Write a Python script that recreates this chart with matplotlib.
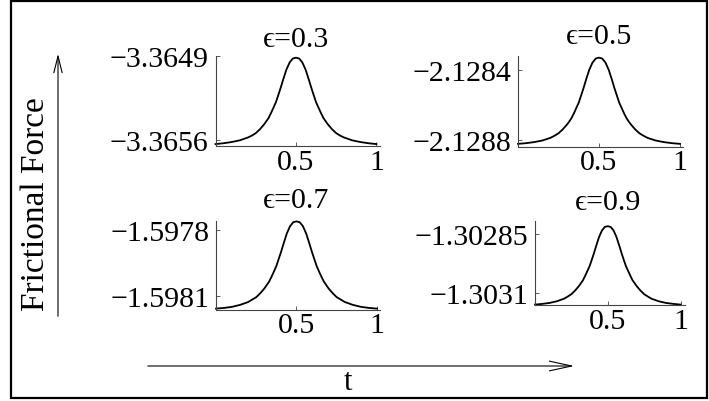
import matplotlib
matplotlib.use("Agg")
import matplotlib.pyplot as plt
from matplotlib.patches import Rectangle, FancyArrowPatch

plt.rcParams['font.family'] = ['Liberation Serif', 'DejaVu Serif']

# time samples (finer near the flanks and the peak)
t = [0, 0.05, 0.1, 0.15, 0.2, 0.225, 0.25, 0.275, 0.3, 0.315, 0.33, 0.345, 0.36, 0.375,
     0.39, 0.405, 0.42, 0.44, 0.46, 0.48, 0.5,
     0.52, 0.54, 0.56, 0.58, 0.595, 0.61, 0.625, 0.64, 0.655, 0.67, 0.685, 0.7, 0.725,
     0.75, 0.775, 0.8, 0.85, 0.9, 0.95, 1.0]

# frictional force
force_03 = [-3.365634, -3.365627, -3.365617, -3.365603, -3.365580, -3.365564, -3.365543,
            -3.365512, -3.365473, -3.365445, -3.365416, -3.365375, -3.365331, -3.365286,
            -3.365226, -3.365164, -3.365098, -3.365015, -3.364955, -3.364921, -3.364914,
            -3.364921, -3.364955, -3.365015, -3.365098, -3.365164, -3.365226, -3.365286,
            -3.365331, -3.365375, -3.365416, -3.365445, -3.365473, -3.365512, -3.365543,
            -3.365564, -3.365580, -3.365603, -3.365617, -3.365627, -3.365634]
force_05 = [-2.128820, -2.128816, -2.128810, -2.128801, -2.128786, -2.128774, -2.128760,
            -2.128739, -2.128713, -2.128695, -2.128674, -2.128647, -2.128616, -2.128586,
            -2.128544, -2.128502, -2.128456, -2.128399, -2.128358, -2.128335, -2.128330,
            -2.128335, -2.128358, -2.128399, -2.128456, -2.128502, -2.128544, -2.128586,
            -2.128616, -2.128647, -2.128674, -2.128695, -2.128713, -2.128739, -2.128760,
            -2.128774, -2.128786, -2.128801, -2.128810, -2.128816, -2.128820]
force_07 = [-1.598159, -1.598156, -1.598151, -1.598142, -1.598129, -1.598118, -1.598107,
            -1.598089, -1.598068, -1.598052, -1.598036, -1.598014, -1.597990, -1.597965,
            -1.597932, -1.597899, -1.597863, -1.597817, -1.597784, -1.597766, -1.597762,
            -1.597766, -1.597784, -1.597817, -1.597863, -1.597899, -1.597932, -1.597965,
            -1.597990, -1.598014, -1.598036, -1.598052, -1.598068, -1.598089, -1.598107,
            -1.598118, -1.598129, -1.598142, -1.598151, -1.598156, -1.598159]
force_09 = [-1.303149, -1.303146, -1.303142, -1.303135, -1.303124, -1.303115, -1.303105,
            -1.303090, -1.303072, -1.303059, -1.303046, -1.303027, -1.303007, -1.302987,
            -1.302960, -1.302932, -1.302902, -1.302864, -1.302836, -1.302821, -1.302818,
            -1.302821, -1.302836, -1.302864, -1.302902, -1.302932, -1.302960, -1.302987,
            -1.303007, -1.303027, -1.303046, -1.303059, -1.303072, -1.303090, -1.303105,
            -1.303115, -1.303124, -1.303135, -1.303142, -1.303146, -1.303149]

titles = ['\u03f5=0.3', '\u03f5=0.5', '\u03f5=0.7', '\u03f5=0.9']
yticks = [[-3.3649, -3.3656], [-2.1284, -2.1288], [-1.5978, -1.5981], [-1.30285, -1.3031]]
yticklabels = [['\u22123.3649', '\u22123.3656'], ['\u22122.1284', '\u22122.1288'],
               ['\u22121.5978', '\u22121.5981'], ['\u22121.30285', '\u22121.3031']]
xticks = [0.5, 1]
xticklabels = ['0.5', '1']

W, H = 709, 402
fig = plt.figure(figsize=(W / 100, H / 100), dpi=100)

# layout in pixels: left, right, top, bottom, xmax, ylim, title offset (pt)
panels = [
    (force_03, 215.5, 379.7, 57.0, 147.0, 1.02, (-3.36565, -3.3649), 7),
    (force_05, 518.0, 683.2, 56.7, 147.5, 1.02, (-2.128835, -2.128319), 9),
    (force_07, 216.0, 380.2, 221.7, 310.7, 1.02, (-1.598164, -1.597759), 10),
    (force_09, 535.0, 684.9, 222.0, 306.3, 1.03, (-1.303152, -1.302796), 8.5),
]

for i, (vals, l, r, top, bot, xmax, ylim, toff) in enumerate(panels):
    ax = fig.add_axes([l / W, 1 - bot / H, (r - l) / W, (bot - top) / H])
    ax.plot(t, vals, color='black', lw=1.3, clip_on=False)
    ax.set_xlim(0, xmax)
    ax.set_ylim(*ylim)
    for s in ['top', 'right']:
        ax.spines[s].set_visible(False)
    for s in ['left', 'bottom']:
        ax.spines[s].set_color('#444444')
        ax.spines[s].set_linewidth(0.8)
    ax.set_xticks(xticks)
    ax.set_xticklabels(xticklabels)
    ax.set_yticks(yticks[i])
    ax.set_yticklabels(yticklabels[i])
    ax.tick_params(direction='in', length=3, width=0.6, color='#444444', labelsize=21.5)
    ax.tick_params(axis='y', pad=5)
    ax.tick_params(axis='x', pad=2)
    ax.patch.set_visible(False)
    ax.annotate(titles[i], xy=(0.5, 1), xycoords=('data', 'axes fraction'),
                xytext=(0, toff), textcoords='offset points',
                ha='center', va='baseline', fontsize=21.5)

# outer frame
fig.add_artist(Rectangle((11 / W, 1 - 399 / H), (707 - 11) / W, (399 - 2) / H,
                         transform=fig.transFigure, fill=False, lw=1.6, ec='black'))

# axis arrows
fig.add_artist(FancyArrowPatch((58 / W, 1 - 320 / H), (58 / W, 1 - 52 / H),
                               transform=fig.transFigure,
                               arrowstyle='->,head_length=1.2,head_width=0.3',
                               mutation_scale=10, lw=0.8, color='black'))
fig.add_artist(FancyArrowPatch((145 / W, 1 - 367 / H), (577 / W, 1 - 367 / H),
                               transform=fig.transFigure,
                               arrowstyle='->,head_length=1.6,head_width=0.35',
                               mutation_scale=10, lw=0.8, color='black'))

fig.text(36 / W, 1 - 204 / H, 'Frictional Force', rotation=90,
         ha='center', va='center', fontsize=24)
fig.text(348 / W, 1 - 383 / H, 't', ha='center', va='center', fontsize=22)

fig.savefig('out.png', dpi=100)
